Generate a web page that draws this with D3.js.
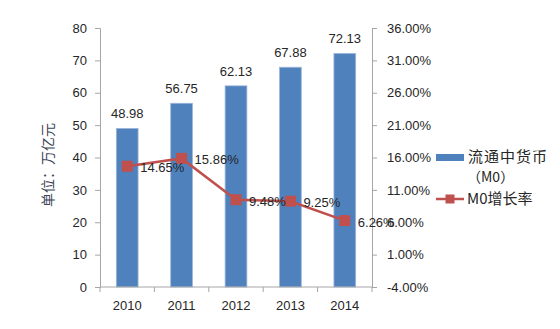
<!DOCTYPE html>
<html><head><meta charset="utf-8">
<script src="https://cdn.jsdelivr.net/npm/d3@7"></script>
<style>
body{margin:0;background:#fff;}
svg{display:block;font-family:"Liberation Sans",Arial,sans-serif;}
</style></head>
<body>
<svg id="c" width="560" height="329"></svg>
<script>
const years = ["2010","2011","2012","2013","2014"];
const m0Values = [48.98, 56.75, 62.13, 67.88, 72.13];
const growthRates = [14.65, 15.86, 9.48, 9.25, 6.26];
const leftTicks = [0,10,20,30,40,50,60,70,80];
const rightTicks = [-4,1,6,11,16,21,26,31,36];
const seriesNames = ["流通中货币", "（M0）", "M0增长率"];
const yTitle = "单位：万亿元";

const svg = d3.select("#c");
const L = 100, R = 372, T = 28, B = 287;
const barColor = "#4F81BD", lineColor = "#C0504D", axisColor = "#A6A6A6", textColor = "#262626";

const x = d3.scaleBand().domain(years).range([L, R]).paddingInner(0.6).paddingOuter(0.3);
const yL = d3.scaleLinear().domain([0, 80]).range([B, T]);
const yR = d3.scaleLinear().domain([-4, 36]).range([B, T]);

// left axis
const gL = svg.append("g").attr("transform", `translate(${L},0)`)
  .call(d3.axisLeft(yL).tickValues(leftTicks).tickSize(5).tickPadding(8));
// right axis
const gR = svg.append("g").attr("transform", `translate(${R},0)`)
  .call(d3.axisRight(yR).tickValues(rightTicks).tickSize(5).tickPadding(10)
    .tickFormat(d => d.toFixed(2) + "%"));
[gL, gR].forEach(g => {
  g.select(".domain").attr("stroke", axisColor);
  g.selectAll(".tick line").attr("stroke", axisColor);
  g.selectAll(".tick text").attr("fill", textColor).attr("font-size", 13);
});

// bars
svg.append("g").selectAll("rect").data(years).join("rect")
  .attr("x", d => x(d)).attr("width", x.bandwidth())
  .attr("y", (d,i) => yL(m0Values[i])).attr("height", (d,i) => yL(0) - yL(m0Values[i]))
  .attr("fill", barColor).attr("stroke", "#9DB6DA").attr("stroke-width", 0.8);

// x axis
svg.append("line").attr("x1", L).attr("x2", R).attr("y1", B).attr("y2", B).attr("stroke", axisColor);
const step = x.step();
const bounds = years.map(d => x(d) - step * x.paddingInner() / 2).concat([x(years[years.length-1]) + x.bandwidth() + step * x.paddingInner() / 2]);
svg.append("g").selectAll("line").data(bounds).join("line")
  .attr("x1", d => d).attr("x2", d => d).attr("y1", B).attr("y2", B + 5).attr("stroke", axisColor);
svg.append("g").selectAll("text").data(years).join("text")
  .attr("x", d => x(d) + x.bandwidth()/2).attr("y", B + 18).attr("dy", "0.35em")
  .attr("text-anchor", "middle").attr("font-size", 13).attr("fill", textColor).text(d => d);

// bar labels
svg.append("g").selectAll("text").data(years).join("text")
  .attr("x", d => x(d) + x.bandwidth()/2).attr("y", (d,i) => yL(m0Values[i]) - 10)
  .attr("text-anchor", "middle").attr("font-size", 13).attr("fill", textColor)
  .text((d,i) => m0Values[i].toFixed(2));

// line
const cx = d => x(d) + x.bandwidth()/2;
const line = d3.line().x((d,i) => cx(years[i])).y(d => yR(d));
svg.append("path").datum(growthRates).attr("d", line)
  .attr("fill", "none").attr("stroke", lineColor).attr("stroke-width", 2.5);
svg.append("g").selectAll("rect").data(growthRates).join("rect")
  .attr("x", (d,i) => cx(years[i]) - 5.5).attr("y", d => yR(d) - 5.5)
  .attr("width", 11).attr("height", 11).attr("fill", lineColor);
svg.append("g").selectAll("text").data(growthRates).join("text")
  .attr("x", (d,i) => cx(years[i]) + 13).attr("y", d => yR(d) + 1.5).attr("dy", "0.35em")
  .attr("font-size", 13).attr("fill", textColor)
  .text(d => d.toFixed(2) + "%");

// y title
svg.append("text").attr("transform", "translate(48,165) rotate(-90)")
  .attr("text-anchor", "middle").attr("dy", "0.35em")
  .attr("font-family", "'Noto Sans CJK SC',sans-serif").attr("font-size", 14)
  .attr("fill", "#3B4556").text(yTitle);

// legend
const lg = svg.append("g").attr("font-family", "'Noto Sans CJK SC',sans-serif").attr("fill", textColor);
lg.append("rect").attr("x", 436).attr("y", 154).attr("width", 28).attr("height", 7).attr("fill", barColor);
lg.append("text").attr("x", 468).attr("y", 157).attr("dy", "0.35em").attr("font-size", 15).attr("letter-spacing", 1).text(seriesNames[0]);
lg.append("text").attr("x", 467).attr("y", 177).attr("dy", "0.35em").attr("font-size", 14).text(seriesNames[1]);
lg.append("line").attr("x1", 436).attr("x2", 464).attr("y1", 199).attr("y2", 199).attr("stroke", lineColor).attr("stroke-width", 2.5);
lg.append("rect").attr("x", 445.5).attr("y", 194.5).attr("width", 9).attr("height", 9).attr("fill", lineColor);
lg.append("text").attr("x", 467).attr("y", 199).attr("dy", "0.35em").attr("font-size", 15).text(seriesNames[2]);
</script>
</body></html>
